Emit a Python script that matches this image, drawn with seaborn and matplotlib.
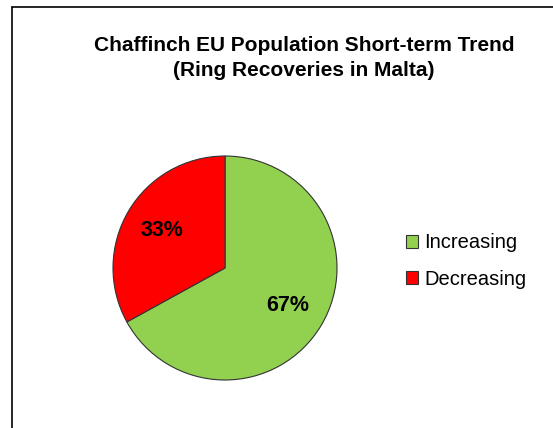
import matplotlib
matplotlib.use("Agg")
import matplotlib.pyplot as plt
import seaborn as sns
from matplotlib.lines import Line2D

# data
categories = ["Increasing", "Decreasing"]
shares = [67, 33]
colours = ["#92D050", "#FF0000"]
title_text = "Chaffinch EU Population Short-term Trend\n(Ring Recoveries in Malta)"

sns.set_theme(style="white")
plt.rcParams["font.family"] = ["Liberation Sans", "DejaVu Sans"]

fig = plt.figure(figsize=(5.53, 4.28), dpi=100)
fig.patch.set_facecolor("white")

# pie axes: centre ~(225,268)px, radius ~112px
W, H = 553, 428
ax = fig.add_axes([(225 - 112) / W, (H - 268 - 112) / H, 224 / W, 224 / H])
wedges, texts, autotexts = ax.pie(
    shares, colors=colours, startangle=90, counterclock=False,
    autopct="%d%%", pctdistance=0.65,
    wedgeprops=dict(edgecolor="#333333", linewidth=0.8),
    textprops=dict(fontsize=15.5, fontweight="bold", color="black"),
)
ax.set_xlim(-1.0, 1.0)
ax.set_ylim(-1.0, 1.0)
ax.set_aspect("equal")
ax.axis("off")

fig.text(304 / W, 1 - 58 / H, title_text, ha="center", va="center",
         fontsize=15, fontweight="bold", linespacing=1.4, color="black")

leg = fig.legend(wedges, categories, loc="center left",
                 bbox_to_anchor=(406 / W, 1 - 261 / H), bbox_transform=fig.transFigure,
                 frameon=False, fontsize=14.5, handlelength=0.6, handleheight=0.6,
                 handletextpad=0.3, labelspacing=0.85, borderpad=0, borderaxespad=0,
                 labelcolor="black")
for h in leg.legend_handles:
    h.set_edgecolor("#333333")
    h.set_linewidth(0.8)

# chart frame edges visible in the crop (top and left)
fig.add_artist(Line2D([12 / W, 12 / W], [0, 1 - 7 / H], transform=fig.transFigure,
                      color="black", linewidth=1.2))
fig.add_artist(Line2D([12 / W, 1], [1 - 7 / H, 1 - 7 / H], transform=fig.transFigure,
                      color="black", linewidth=1.2))

fig.savefig("out.png", dpi=100, facecolor="white")
